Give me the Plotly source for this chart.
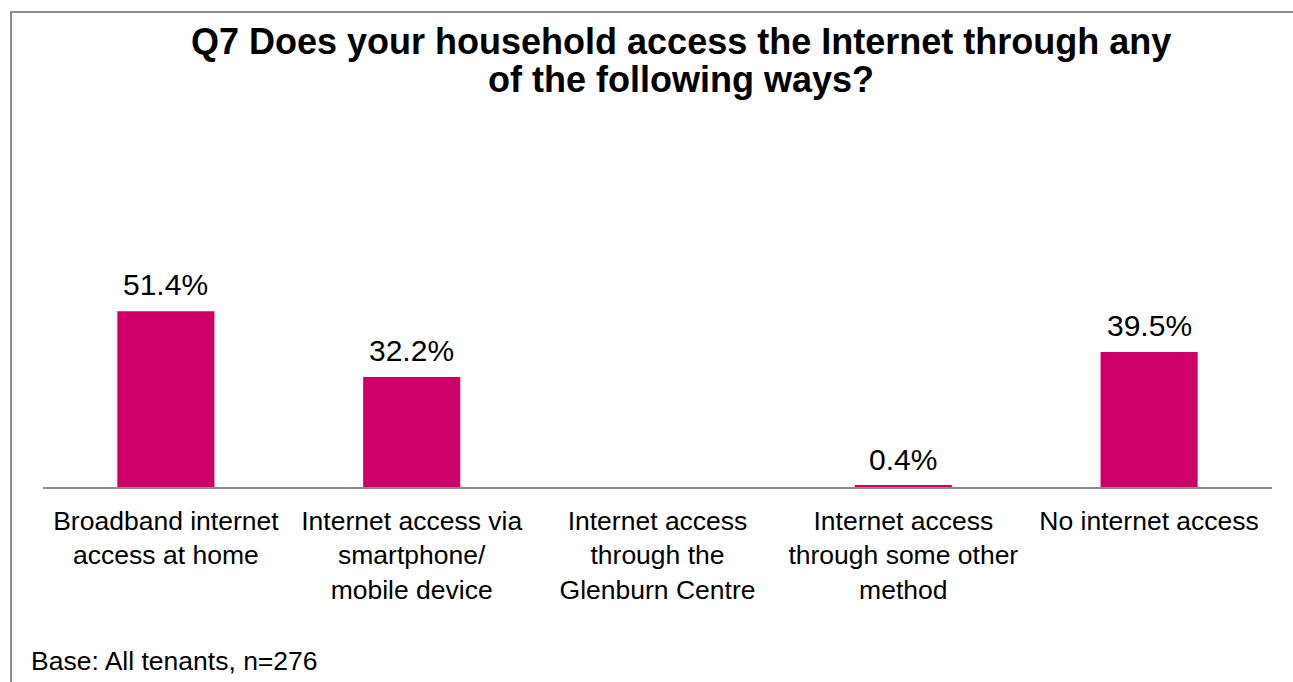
import plotly.graph_objects as go

# Survey results
categories = [
    "Broadband internet<br>access at home",
    "Internet access via<br>smartphone/<br>mobile device",
    "Internet access<br>through the<br>Glenburn Centre",
    "Internet access<br>through some other<br>method",
    "No internet access",
]
values = [51.4, 32.2, 0.0, 0.4, 39.5]
value_labels = ["51.4%", "32.2%", "", "0.4%", "39.5%"]

title_lines = [
    "Q7 Does your household access the Internet through any",
    "of the following ways?",
]
footnote_text = "Base: All tenants, n=276"

BAR_COLOR = "#CC0066"
FONT = "Liberation Sans, Arial, sans-serif"

W, H = 1293, 682
M_L, M_R, M_T, M_B = 43, 21, 145, 195
PW = W - M_L - M_R
PH = H - M_T - M_B


def px_to_paper_x(px):
    return (px - M_L) / PW


def px_to_paper_y(py):
    return (H - M_B - py) / PH


fig = go.Figure()
fig.add_trace(go.Bar(
    x=categories,
    y=values,
    marker=dict(color=BAR_COLOR, line=dict(width=0)),
    width=0.395,
    hoverinfo="x+y",
))

# Value labels above each bar
for cat, v, lab in zip(categories, values, value_labels):
    if lab:
        fig.add_annotation(
            x=cat, y=v, xref="x", yref="y",
            text=lab, showarrow=False,
            yanchor="bottom", yshift=8,
            font=dict(family=FONT, size=30, color="#000000"),
        )

# Title, one annotation per line for tighter leading
for line, cy in zip(title_lines, [41, 80]):
    fig.add_annotation(
        x=px_to_paper_x(681), y=px_to_paper_y(cy), xref="paper", yref="paper",
        xanchor="center", yanchor="middle",
        text="<b>" + line + "</b>", showarrow=False,
        font=dict(family=FONT, size=36, color="#000000"),
    )

# Footnote
fig.add_annotation(
    x=px_to_paper_x(29), y=px_to_paper_y(678), xref="paper", yref="paper",
    xanchor="left", yanchor="bottom",
    text=footnote_text, showarrow=False,
    font=dict(family=FONT, size=26.5, color="#000000"),
)

# Chart frame
fig.add_shape(
    type="rect", xref="paper", yref="paper",
    x0=px_to_paper_x(11), x1=px_to_paper_x(W + 10),
    y0=px_to_paper_y(H + 10), y1=px_to_paper_y(12),
    line=dict(color="#8f8f8f", width=2), fillcolor="rgba(0,0,0,0)",
    layer="below",
)

fig.update_layout(
    width=W, height=H,
    margin=dict(l=M_L, r=M_R, t=M_T, b=M_B, pad=0),
    paper_bgcolor="white", plot_bgcolor="white",
    showlegend=False,
    xaxis=dict(
        type="category",
        range=[-0.5, 4.5],
        showline=True, linecolor="#8c8c8c", linewidth=2,
        showgrid=False, ticks="",
        tickfont=dict(family=FONT, size=26.5, color="#000000"),
        ticklabelstandoff=9,
        fixedrange=True,
    ),
    yaxis=dict(
        range=[0, 100],
        visible=False, showgrid=False, zeroline=False,
        fixedrange=True,
    ),
    bargap=0.6,
)

fig.write_html("out.html")
